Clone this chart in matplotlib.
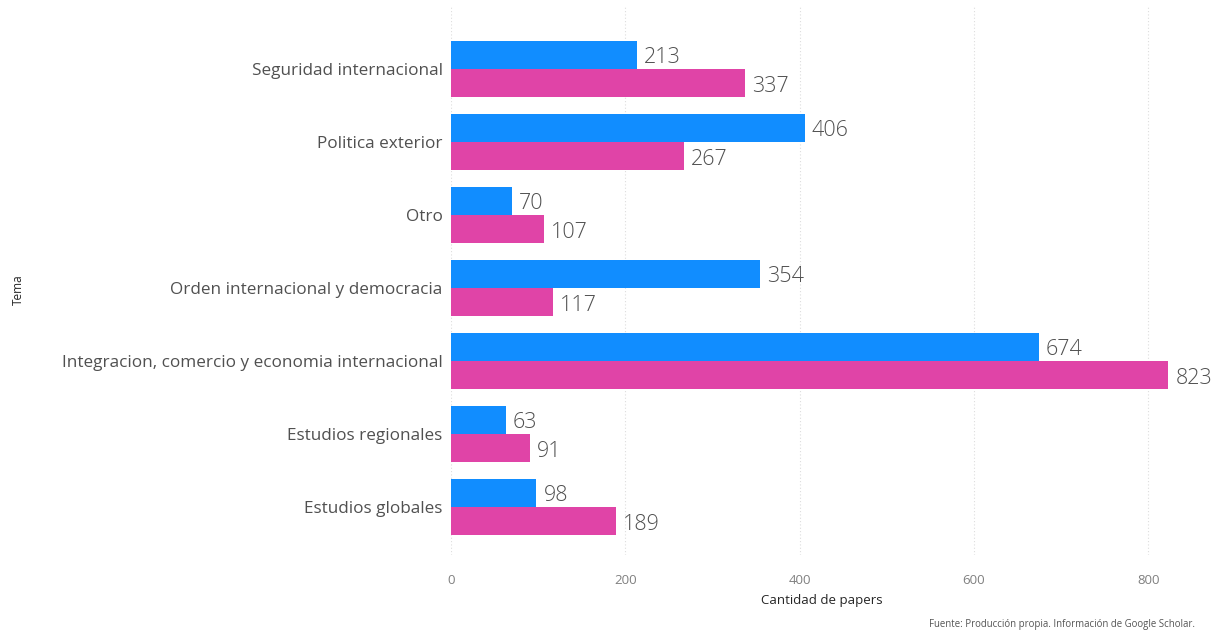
import matplotlib
matplotlib.use("Agg")
import matplotlib.pyplot as plt
import numpy as np

categories = ["Seguridad internacional", "Politica exterior", "Otro",
              "Orden internacional y democracia",
              "Integracion, comercio y economia internacional",
              "Estudios regionales", "Estudios globales"]
serie_azul = [213, 406, 70, 354, 674, 63, 98]
serie_rosa = [337, 267, 107, 117, 823, 91, 189]
xticks = [0, 200, 400, 600, 800]

plt.rcParams['font.family'] = ['Open Sans', 'DejaVu Sans']

fig = plt.figure(figsize=(12.22, 6.32), dpi=100)
ax = fig.add_axes([451/1222, 1 - 555/632, (1192-451)/1222, 550/632])

y = np.arange(len(categories))
h = 0.39
bb = ax.barh(y - h/2, serie_azul, height=h, color="#118DFF")
bp = ax.barh(y + h/2, serie_rosa, height=h, color="#E044A7")
for bars, vals in ((bb, serie_azul), (bp, serie_rosa)):
    for b, v in zip(bars, vals):
        ax.text(b.get_width() + 8, b.get_y() + b.get_height()/2 + 0.04, str(v),
                va="center", ha="left", fontsize=15.5, color="#505050",
                fontweight="light")

ax.set_xlim(0, 850)
ax.set_ylim(6 + 48/73, -64/73)
ax.set_yticks(y)
ax.set_yticklabels(categories, fontsize=12.3, color="#505050")
ax.set_xticks(xticks)
ax.set_xticklabels([str(t) for t in xticks], fontsize=9.5, color="#808080")
ax.tick_params(length=0)
ax.tick_params(axis="y", pad=6)
ax.tick_params(axis="x", pad=14)
ax.grid(axis="x", color="#dddddd", linestyle=(0, (1, 2)), linewidth=0.8)
ax.set_axisbelow(True)
for s in ax.spines.values():
    s.set_visible(False)

ax.set_xlabel("Cantidad de papers", fontsize=9.5, color="#252525", labelpad=5)
fig.text(18/1222, 1 - 290/632, "Tema", rotation=90, fontsize=8.5,
         color="#252525", ha="center", va="center")
fig.text(1195/1222, 1 - 624/632,
         "Fuente: Producción propia. Información de Google Scholar.",
         fontsize=6.9, color="#555555", ha="right", va="center")

fig.savefig("out.png", dpi=100, facecolor="white")
